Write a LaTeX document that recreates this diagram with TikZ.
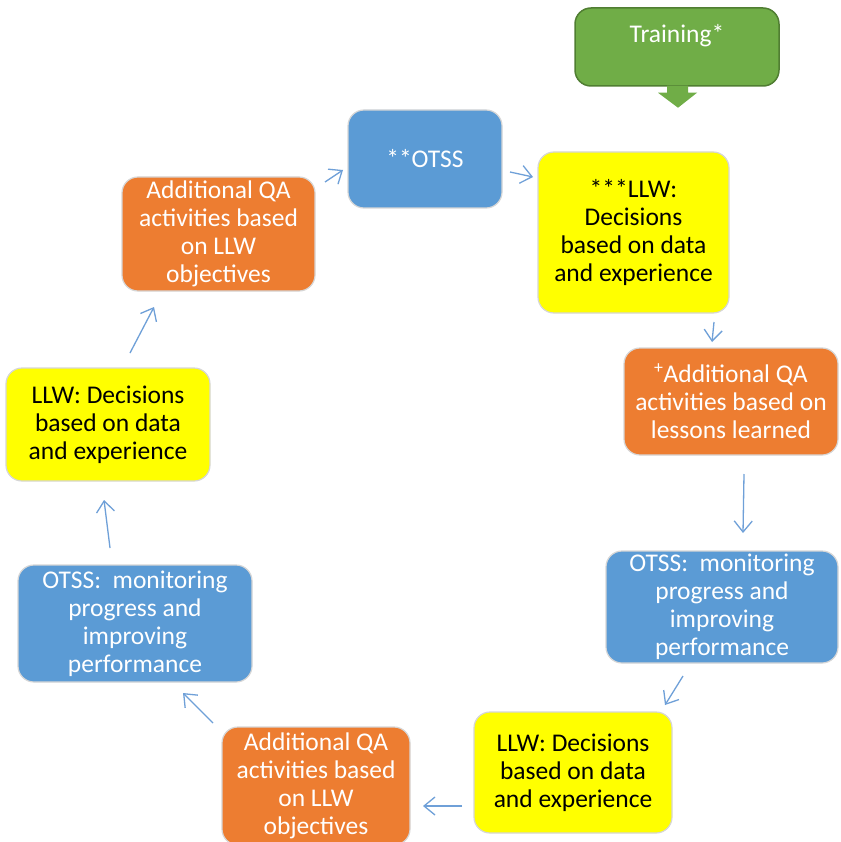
\documentclass[tikz,border=0pt]{standalone}
\usepackage{fontspec}
\setmainfont{Carlito}
\usetikzlibrary{arrows.meta,calc}
\definecolor{cblue}{HTML}{5B9BD5}
\definecolor{corange}{HTML}{ED7D31}
\definecolor{cyellow}{HTML}{FFFF00}
\definecolor{cgreen}{HTML}{70AD47}
\definecolor{cgreenb}{HTML}{507E32}
\definecolor{carrow}{HTML}{6FA0D8}
\definecolor{cedge}{HTML}{D6D6D6}
\tikzset{
  box/.style={rectangle, rounded corners=16pt, draw=cedge, line width=1.2pt, align=center, inner sep=2pt,
    font=\fontsize{25.5}{28}\selectfont},
  bluebox/.style={box, fill=cblue, text=white},
  orangebox/.style={box, fill=corange, text=white},
  yellowbox/.style={box, fill=cyellow, text=black},
  flow/.style={draw=carrow, line width=1.3pt, -{Straight Barb[length=11pt,width=18pt]}},
}
\begin{document}
\begin{tikzpicture}[x=1pt,y=-1pt]
\useasboundingbox (0,0) rectangle (840,842);
\fill[white] (0,0) rectangle (840,842);

% Training
\node[box, fill=cgreen, draw=cgreenb, line width=1.5pt, text=white, minimum width=204pt, minimum height=78pt,
  text height=18pt, text depth=27pt] (train) at (677,47) {Training*};
\fill[cgreen] ($(train.south)+(-10,-1)$) -- ++(21,0) -- ++(0,7) -- ++(9,0) -- ($(train.south)+(1,21)$)
  -- ($(train.south)+(-19,6)$) -- ($(train.south)+(-10,6)$) -- cycle;

\node[bluebox, minimum width=154pt, minimum height=98pt] (otss) at (425,159) {**OTSS};
\node[yellowbox, minimum width=191pt, minimum height=161pt] (llwa) at (633.5,232.5)
  {***LLW:\\Decisions\\based on data\\and experience};
\node[orangebox, minimum width=214pt, minimum height=107pt] (qaa) at (731,401.5)
  {\textsuperscript{+}Additional QA\\activities based on\\lessons learned};
\node[bluebox, minimum width=232pt, minimum height=112pt] (otssr) at (722,607)
  {OTSS:\ \ monitoring\\progress and\\improving\\performance};
\node[yellowbox, minimum width=198pt, minimum height=121pt] (llwb) at (573,772.5)
  {LLW: Decisions\\based on data\\and experience};
\node[orangebox, minimum width=188pt, minimum height=118pt] (qab) at (316,786)
  {Additional QA\\activities based\\on LLW\\objectives};
\node[bluebox, minimum width=234pt, minimum height=117pt] (otssl) at (135,623.5)
  {OTSS:\ \ monitoring\\progress and\\improving\\performance};
\node[yellowbox, minimum width=204pt, minimum height=113pt] (llwc) at (108,424.5)
  {LLW: Decisions\\based on data\\and experience};
\node[orangebox, minimum width=193pt, minimum height=114pt] (qac) at (218.5,234)
  {Additional QA\\activities based\\on LLW\\objectives};

% arrow end points
\coordinate (a1s) at (325,182); \coordinate (a1e) at (343,170);
\coordinate (a2s) at (510,172); \coordinate (a2e) at (533,177);
\coordinate (a3s) at (714,322); \coordinate (a3e) at (712,342);
\coordinate (a4s) at (744,474); \coordinate (a4e) at (743,533);
\coordinate (a5s) at (683,676); \coordinate (a5e) at (665,705);
\coordinate (a6s) at (462,806); \coordinate (a6e) at (423,806);
\coordinate (a7s) at (213,723); \coordinate (a7e) at (183,693);
\coordinate (a8s) at (110,548); \coordinate (a8e) at (104,500);
\coordinate (a9s) at (130,353); \coordinate (a9e) at (154,307);

\draw[flow] (a1s) -- (a1e);
\draw[flow] (a2s) -- (a2e);
\draw[flow] (a3s) -- (a3e);
\draw[flow] (a4s) -- (a4e);
\draw[flow] (a5s) -- (a5e);
\draw[flow] (a6s) -- (a6e);
\draw[flow] (a7s) -- (a7e);
\draw[flow] (a8s) -- (a8e);
\draw[flow] (a9s) -- (a9e);
\end{tikzpicture}
\end{document}
